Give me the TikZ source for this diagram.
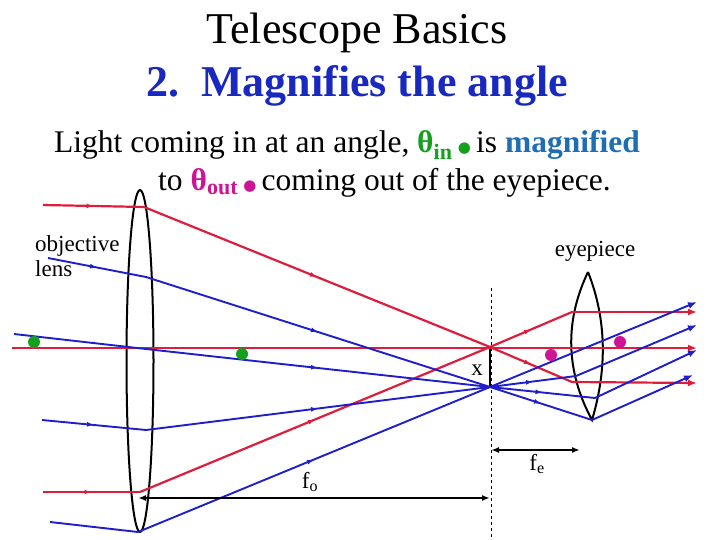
\documentclass[tikz,border=0pt]{standalone}
\usepackage{fontspec}
\setmainfont{Liberation Serif}
\newfontfamily\djv{DejaVu Sans}
\usetikzlibrary{decorations.markings,arrows.meta,shapes.geometric}
\definecolor{rr}{RGB}{220,30,60}
\definecolor{bb}{RGB}{30,30,205}
\definecolor{gg}{RGB}{20,160,30}
\definecolor{mm}{RGB}{205,20,150}
\definecolor{tb}{RGB}{25,40,190}
\definecolor{mb}{RGB}{30,110,180}
\tikzset{
 ma/.style={postaction={decorate},decoration={markings,mark=at position 0.5 with {\arrow{Latex[length=7pt,width=5pt]}}}},
 rray/.style={rr,line width=2.2pt},
 bray/.style={bb,line width=1.9pt},
 dot/.style={circle,inner sep=0pt,minimum size=12pt},
 lbl/.style={inner sep=0pt,font=\fontsize{23}{25}\selectfont},
 tip/.style={-{Latex[length=9pt,width=7pt]}},
}
\begin{document}
\begin{tikzpicture}[x=1pt,y=-1pt]
\useasboundingbox (0,0) rectangle (720,540);
% texts
\node (t1) at (357,33) {\fontsize{44}{48}\selectfont Telescope Basics};
\node (t2) at (357,86) {\fontsize{44}{48}\selectfont\bfseries\color{tb}2.\ \ Magnifies the angle};
\node[anchor=west,inner sep=0pt] (t3) at (54,145) {\fontsize{31.5}{34}\selectfont Light coming in at an angle, {\bfseries\color{gg}θ\textsubscript{in}}\,{\color{gg}\djv\fontsize{15}{15}\selectfont●}\,is {\bfseries\color{mb}magnified}};
\node[anchor=west,inner sep=0pt] (t4) at (158,183) {\fontsize{31.5}{34}\selectfont to {\bfseries\color{mm}θ\textsubscript{out}}\,{\color{mm}\djv\fontsize{15}{15}\selectfont●}\,coming out of the eyepiece.};
\node[lbl,anchor=north west,align=left] (ol) at (35,235) {objective\\lens};
\node[lbl,anchor=center] (ep) at (595,251) {eyepiece};
% key points
\coordinate (F1) at (490,347);
\coordinate (F2) at (490,387);
% dashed focal line
\coordinate (dtop) at (491,288);
\coordinate (dbot) at (491,540);
\draw[dashed,thin] (dtop) -- (dbot);
\draw[line width=2pt] (F1) -- (F2);
\node[lbl] (xl) at (477,370) {x};
% objective lens
\node[draw,ellipse,line width=2pt,minimum width=27pt,minimum height=342pt,inner sep=0pt] (obj) at (140,361) {};
% eyepiece
\coordinate (et) at (588,272);
\coordinate (eb) at (592,420);
\draw[line width=2pt] (et) .. controls (565,320) and (565,370) .. (eb) .. controls (607,370) and (607,320) .. (et);
% red rays
\coordinate (r1a) at (43,205); \coordinate (r1b) at (144,207); \coordinate (r1c) at (572,382); \coordinate (r1d) at (697,383);
\coordinate (r2a) at (12,348); \coordinate (r2d) at (697,348);
\coordinate (r3a) at (43,492); \coordinate (r3b) at (140,492); \coordinate (r3c) at (572,312); \coordinate (r3d) at (697,312);
\draw[rray,ma] (r1a)--(r1b); \draw[rray,ma] (r1b)--(F1); \draw[rray,ma] (F1)--(r1c); \draw[rray,tip] (r1c)--(r1d);
\draw[rray,tip] (r2a)--(r2d);
\draw[rray,ma] (r3a)--(r3b); \draw[rray,ma] (r3b)--(F1); \draw[rray,ma] (F1)--(r3c); \draw[rray,tip] (r3c)--(r3d);
% blue rays
\coordinate (b1a) at (48,258); \coordinate (b1b) at (146,277); \coordinate (b1c) at (592,420); \coordinate (b1d) at (693,375);
\coordinate (b2a) at (14,334); \coordinate (b2b) at (146,349); \coordinate (b2c) at (595,398); \coordinate (b2d) at (697,350);
\coordinate (b3a) at (42,420); \coordinate (b3b) at (146,430); \coordinate (b3c) at (576,376); \coordinate (b3d) at (697,325);
\coordinate (b4a) at (50,522); \coordinate (b4b) at (138,532); \coordinate (b4d) at (697,302);
\draw[bray,ma] (b1a)--(b1b); \draw[bray,ma] (b1b)--(F2); \draw[bray,ma] (F2)--(b1c); \draw[bray,tip] (b1c)--(b1d);
\draw[bray] (b2a)--(b2b); \draw[bray,ma] (b2b)--(F2); \draw[bray,ma] (F2)--(b2c); \draw[bray,tip] (b2c)--(b2d);
\draw[bray,ma] (b3a)--(b3b); \draw[bray,ma] (b3b)--(F2); \draw[bray,ma] (F2)--(b3c); \draw[bray,tip] (b3c)--(b3d);
\draw[bray] (b4a)--(b4b); \draw[bray,ma] (b4b)--(F2); \draw[bray,tip] (F2)--(b4d);
% dots
\node[dot,fill=gg] (g1) at (34,342) {};
\node[dot,fill=gg] (g2) at (242,354) {};
\node[dot,fill=mm] (m1) at (551,355) {};
\node[dot,fill=mm] (m2) at (620,342) {};
% focal lengths
\coordinate (foL) at (138,498); \coordinate (foR) at (490,498);
\draw[line width=1.6pt,{Latex[length=8pt]}-{Latex[length=8pt]}] (foL)--(foR);
\node[lbl] (fo) at (310,482) {f\textsubscript{o}};
\coordinate (feL) at (491,450); \coordinate (feR) at (580,450);
\draw[line width=1.6pt,{Latex[length=8pt]}-{Latex[length=8pt]}] (feL)--(feR);
\node[lbl] (fe) at (537,464) {f\textsubscript{e}};
\end{tikzpicture}
\end{document}
